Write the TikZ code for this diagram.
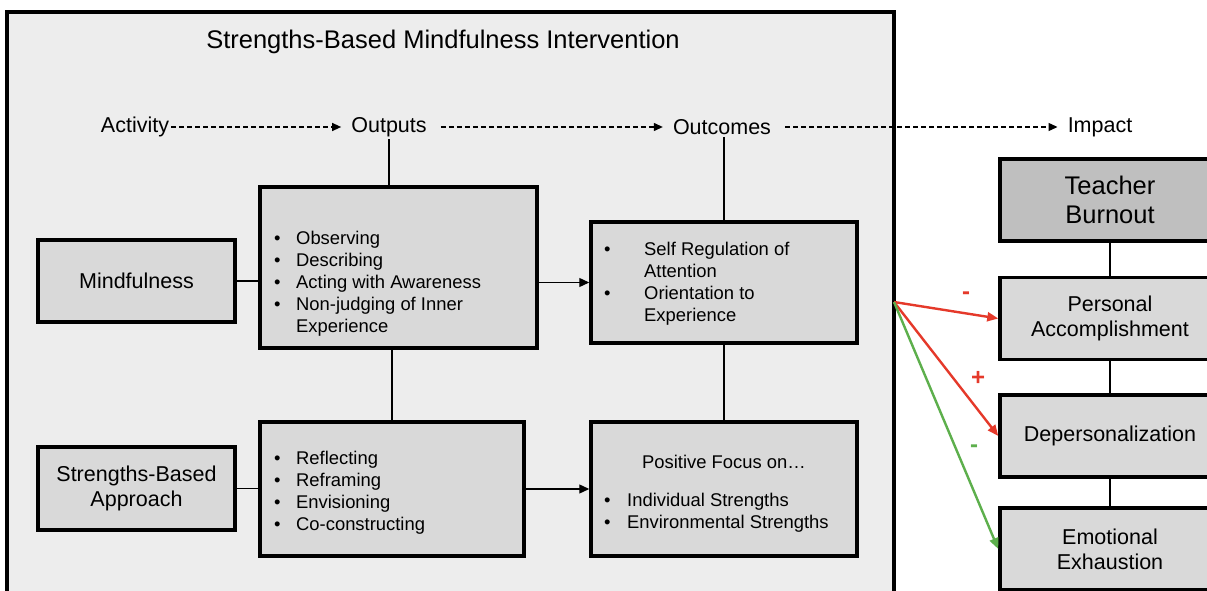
\documentclass[tikz,border=0pt]{standalone}
\usepackage{fontspec}
\setmainfont{Liberation Sans}
\usetikzlibrary{arrows.meta}

\definecolor{panelgray}{HTML}{EDEDED}
\definecolor{boxgray}{HTML}{D9D9D9}
\definecolor{darkgray}{HTML}{BFBFBF}
\definecolor{linkred}{HTML}{E5392A}
\definecolor{linkgreen}{HTML}{5DAF4C}

\newcommand\sizeL{\fontsize{25.5}{29}\selectfont}
\newcommand\sizeM{\fontsize{21.5}{25}\selectfont}
\newcommand\sizeS{\fontsize{18.4}{22}\selectfont}
\newcommand\bul[1]{\makebox[#1][l]{•}}

\tikzset{
  box/.style={draw, line width=3.5pt, fill=boxgray, inner sep=0pt, align=center, font=\sizeM},
  label/.style={inner sep=2pt, font=\sizeM},
  list/.style={anchor=north west, inner sep=0pt, align=left, font=\sizeS},
  conn/.style={line width=1.3pt},
  solidarrow/.style={conn, -{Triangle[length=10pt,width=9pt]}},
  dasharrow/.style={line width=1.2pt, dash pattern=on 5pt off 3pt, -{Triangle[length=9pt,width=8pt]}},
  linkarrow/.style={line width=2.4pt, -{Triangle[length=11pt,width=9pt]}},
  sign/.style={inner sep=0pt, font=\fontsize{24}{24}\selectfont\bfseries}
}

\begin{document}
\begin{tikzpicture}[x=1pt, y=-1pt]
\useasboundingbox (0,0) rectangle (1207,591);
\path[clip] (0,0) rectangle (1207,591);
\fill[white] (0,0) rectangle (1207,591);

% intervention panel
\draw[line width=4pt, fill=panelgray] (7,12) rectangle (894,640);
\node[font=\sizeL] (title) at (443,42) {Strengths-Based Mindfulness Intervention};

% logic-model stages
\node[label] (act)  at (135,127)  {Activity};
\node[label] (outp) at (389,127)  {Outputs};
\node[label] (outc) at (722,127)  {Outcomes};
\node[label] (imp)  at (1100,127) {Impact};
\draw[dasharrow] (act.east) -- ([xshift=-8pt]outp.west);
\draw[dasharrow] ([xshift=12pt]outp.east) -- ([xshift=-8pt]outc.west);
\draw[dasharrow] ([xshift=12pt]outc.east) -- ([xshift=-8pt]imp.west);

% activity boxes
\node[box, minimum width=197pt, minimum height=82pt] (mind) at (136.5,281) {Mindfulness};
\node[box, minimum width=197pt, minimum height=83pt] (sba) at (136.5,488.5) {Strengths-Based\\Approach};

% output boxes
\node[box, minimum width=277pt, minimum height=161pt] (out1) at (398.5,267.5) {};
\node[box, minimum width=264pt, minimum height=134pt] (out2) at (392,489) {};

% outcome boxes
\node[box, minimum width=266pt, minimum height=121pt] (oc1) at (724,282.5) {};
\node[box, minimum width=266pt, minimum height=134pt] (oc2) at (724,489) {};

% box contents
\node[list] (l1) at (274,231) {\bul{22pt}Observing\\ \bul{22pt}Describing\\ \bul{22pt}Acting with Awareness\\ \bul{22pt}Non-judging of Inner\\ \hspace*{22pt}Experience};
\node[list] (l2) at (274,451) {\bul{22pt}Reflecting\\ \bul{22pt}Reframing\\ \bul{22pt}Envisioning\\ \bul{22pt}Co-constructing};
\node[list] (l3) at (604,242) {\bul{40pt}Self Regulation of\\ \hspace*{40pt}Attention\\ \bul{40pt}Orientation to\\ \hspace*{40pt}Experience};
\node[font=\sizeS, inner sep=0pt] (pf) at (724,462) {Positive Focus on…};
\node[list] (l4) at (604,493) {\bul{23pt}Individual Strengths\\ \bul{23pt}Environmental Strengths};

% connectors inside the panel
\draw[conn] (outp.south) -- (outp.south |- out1.north);
\draw[conn] (outc.south -| oc1.north) -- (oc1.north);
\draw[conn] (mind.east) -- (mind.east -| out1.west);
\draw[conn] (sba.east) -- (sba.east -| out2.west);
\draw[solidarrow] (oc1.west -| out1.east) -- (oc1.west);
\draw[solidarrow] (oc2.west -| out2.east) -- (oc2.west);
\draw[conn] (out1.south -| out2.north) -- (out2.north);
\draw[conn] (oc1.south) -- (oc2.north);

% burnout dimensions
\node[box, fill=darkgray, font=\sizeL, minimum width=220pt, minimum height=82pt] (tb) at (1110,200) {Teacher\\Burnout};
\node[box, minimum width=220pt, minimum height=82pt] (pa) at (1110,318.5) {Personal\\Accomplishment};
\node[box, minimum width=220pt, minimum height=82pt] (dp) at (1110,436) {Depersonalization};
\node[box, minimum width=220pt, minimum height=82pt] (ee) at (1110,549) {Emotional\\Exhaustion};
\draw[conn] (tb.south) -- (pa.north);
\draw[conn] (pa.south) -- (dp.north);
\draw[conn] (dp.south) -- (ee.north);

% effects on burnout
\coordinate (src) at (894,302);
\draw[linkarrow, linkred] (src) -- (pa.west);
\draw[linkarrow, linkred] (src) -- (dp.west);
\draw[linkarrow, linkgreen] (src) -- (ee.west);
\node[sign, text=linkred] (s1) at (966,296) {-};
\node[sign, text=linkred] (s2) at (978,378) {+};
\node[sign, text=linkgreen] (s3) at (974,449) {-};
\end{tikzpicture}
\end{document}
